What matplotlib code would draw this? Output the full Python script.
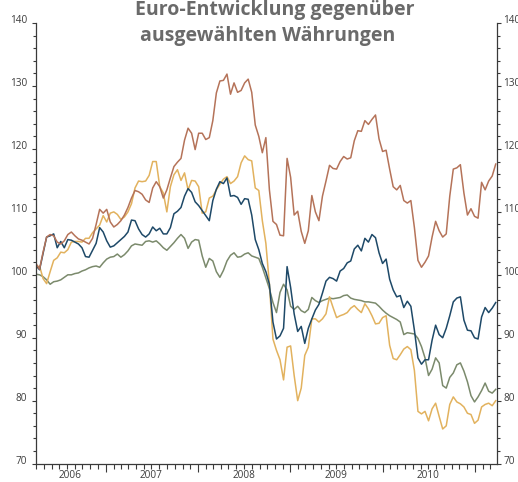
import matplotlib
matplotlib.use("Agg")
import matplotlib.pyplot as plt
import matplotlib.dates as mdates
from matplotlib.ticker import MultipleLocator, FixedLocator, NullFormatter
import pandas as pd

# ---------------- data (index, start = 100) ----------------
dates = pd.date_range("2006-03-31", periods=131, freq="14D")

serie_gruen = [
    100.1, 100.0, 99.7, 99.2, 98.5, 98.9, 99.0, 99.2, 99.6, 100.0,
    100.0, 100.2, 100.3, 100.6, 100.8, 101.1, 101.3, 101.4, 101.2, 101.9,
    102.5, 102.8, 102.9, 103.3, 102.8, 103.2, 103.8, 104.6, 104.9, 104.8,
    104.7, 105.3, 105.4, 105.2, 105.4, 104.9, 104.3, 103.9, 104.5, 105.1,
    105.8, 106.4, 105.8, 104.2, 105.2, 105.6, 105.5, 103.0, 101.2, 102.6,
    102.2, 100.5, 99.6, 100.7, 102.2, 103.1, 103.5, 102.8, 102.9, 103.3,
    103.5, 103.0, 102.8, 102.6, 101.2, 99.5, 97.8, 95.6, 94.0, 97.2,
    98.5, 97.6, 95.0, 94.5, 95.0, 94.3, 94.0, 94.5, 96.4, 95.9,
    95.6, 95.9, 96.1, 96.3, 96.2, 96.3, 96.4, 96.7, 96.8, 96.3,
    96.1, 96.0, 95.9, 95.7, 95.7, 95.6, 95.5, 95.0, 94.4, 93.9,
    93.5, 93.2, 92.9, 92.5, 90.5, 90.8, 90.7, 90.6, 89.9, 88.6,
    86.8, 84.0, 85.0, 86.8, 86.0, 82.4, 82.0, 83.7, 84.4, 85.7,
    86.0, 84.7, 83.0, 80.8, 79.8, 80.6, 81.6, 82.8, 81.5, 81.2, 81.8,
]

serie_blau = [
    101.5, 100.8, 103.4, 106.0, 106.2, 106.5, 104.3, 105.3, 104.3, 105.6,
    105.5, 105.2, 104.9, 104.3, 102.9, 102.8, 103.9, 105.0, 107.5, 106.8,
    105.4, 104.4, 104.6, 105.1, 105.6, 106.1, 106.8, 108.7, 108.6, 107.3,
    106.4, 106.0, 106.5, 107.6, 107.0, 107.4, 106.5, 106.5, 107.5, 109.7,
    110.1, 110.7, 112.5, 113.7, 113.1, 111.6, 111.0, 110.2, 109.4, 108.6,
    111.8, 113.6, 114.8, 114.5, 115.4, 112.5, 112.6, 112.3, 111.2, 112.1,
    112.0, 109.5, 105.6, 104.0, 101.8, 100.5, 98.5, 92.5, 89.8, 90.3,
    91.5, 101.3, 98.0, 93.8, 91.0, 91.8, 89.1, 91.5, 93.0, 94.4,
    95.3, 97.1, 99.0, 99.6, 99.4, 99.0, 100.6, 101.0, 101.9, 102.2,
    104.1, 104.7, 103.8, 105.8, 105.2, 106.4, 105.9, 103.5, 101.8, 102.5,
    99.3, 97.6, 96.5, 96.7, 94.8, 95.8, 95.0, 91.2, 86.8, 85.8,
    86.5, 86.5, 89.6, 92.0, 90.5, 90.0, 91.5, 93.5, 95.7, 96.3,
    96.5, 92.8, 91.2, 91.1, 90.0, 89.8, 93.3, 94.8, 94.0, 94.7, 95.6,
]

serie_gelb = [
    101.0, 101.4, 99.4, 98.6, 100.5, 102.3, 102.7, 103.6, 103.5, 104.0,
    105.2, 105.3, 105.3, 105.2, 105.8, 105.8, 106.7, 107.3, 107.9, 109.4,
    108.4, 109.8, 110.0, 109.6, 108.8, 109.2, 110.0, 111.3, 113.8, 114.9,
    114.8, 114.9, 115.8, 118.0, 118.0, 114.0, 113.0, 110.0, 114.0, 115.9,
    116.7, 115.0, 116.2, 113.5, 115.0, 114.9, 114.0, 109.8, 110.0, 112.2,
    112.5, 113.5, 114.4, 115.2, 115.6, 114.5, 114.9, 115.6, 117.8, 118.9,
    118.3, 118.1, 113.8, 113.4, 108.6, 105.0, 98.5, 89.8, 88.0, 86.5,
    83.3, 88.5, 88.7, 84.0, 80.0, 82.0, 87.2, 88.5, 93.0, 93.0,
    92.5, 93.0, 93.8, 96.5, 94.8, 93.2, 93.5, 93.7, 94.0, 94.7,
    95.1, 94.5, 94.0, 95.4, 94.6, 93.5, 92.2, 92.3, 93.2, 93.5,
    88.8, 86.7, 86.5, 87.3, 88.2, 88.6, 88.1, 84.8, 78.3, 77.9,
    78.3, 76.8, 78.7, 79.6, 77.5, 75.5, 76.0, 79.4, 80.6, 79.8,
    79.5, 79.0, 78.0, 77.8, 76.4, 76.9, 79.0, 79.4, 79.6, 79.2, 80.0,
]

serie_braun = [
    101.8, 100.9, 103.6, 106.0, 106.4, 106.2, 105.2, 104.9, 105.4, 106.4,
    106.8, 106.2, 105.7, 105.5, 105.2, 104.9, 105.8, 108.0, 110.4, 109.8,
    110.4, 108.4, 107.6, 108.0, 108.6, 109.5, 110.7, 112.2, 113.4, 113.2,
    112.8, 111.9, 111.5, 113.8, 114.8, 114.0, 112.2, 113.5, 115.4, 117.2,
    117.9, 118.5, 121.4, 123.3, 122.5, 119.9, 122.5, 122.5, 121.5, 121.8,
    124.5, 128.9, 130.8, 130.9, 131.9, 128.7, 130.5, 129.0, 129.3, 130.5,
    131.1, 129.0, 123.8, 122.0, 119.4, 121.8, 113.5, 108.5, 108.0, 106.3,
    106.2, 118.5, 115.5, 109.5, 110.1, 106.9, 105.0, 107.0, 112.6, 110.0,
    108.6, 112.5, 114.9, 117.4, 116.9, 116.8, 118.0, 118.8, 118.4, 118.6,
    121.3, 122.9, 122.8, 124.5, 123.9, 124.7, 125.4, 121.6, 119.6, 119.8,
    116.8, 114.0, 113.5, 114.2, 111.8, 111.4, 111.8, 107.5, 102.3, 101.2,
    102.0, 103.0, 106.0, 108.5, 107.0, 106.0, 106.5, 112.5, 116.8, 117.0,
    117.5, 113.0, 109.5, 110.5, 109.3, 109.0, 114.7, 113.5, 114.9, 115.7, 117.6,
]

y_ticks = [70, 80, 90, 100, 110, 120, 130, 140]
y_labels = ["70", "80", "90", "100", "110", "120", "130", "140"]
jahre = ["2006", "2007", "2008", "2009", "2010"]
jahr_pos = ["2006-08-14", "2007-07-01", "2008-07-01", "2009-07-01", "2010-07-01"]

titel1 = "Euro-Entwicklung gegenüber"
titel2 = "ausgewählten Währungen"

# ---------------- figure ----------------
plt.rcParams["font.family"] = ["Open Sans", "DejaVu Sans"]
fig = plt.figure(figsize=(5.18, 4.82), dpi=100)
ax = fig.add_axes([36 / 518, 1 - 463.6 / 482, (497 - 36) / 518, (463.6 - 23.1) / 482])

lw = 1.1
ax.plot(dates, serie_gruen, color="#7b8a6c", lw=lw)
ax.plot(dates, serie_gelb, color="#e2b25e", lw=lw)
ax.plot(dates, serie_blau, color="#1e4968", lw=lw)
ax.plot(dates, serie_braun, color="#b57359", lw=lw)

ax.set_ylim(70, 140)
ax.set_xlim(pd.Timestamp("2006-03-31"), pd.Timestamp("2011-03-30"))

spine_col = "#3a3a3a"
txt_col = "#3c3c3c"
for s in ["top", "right"]:
    ax.spines[s].set_visible(False)
for s in ["left", "bottom"]:
    ax.spines[s].set_color(spine_col)
    ax.spines[s].set_linewidth(0.9)

# y axis left
ax.yaxis.set_major_locator(FixedLocator(y_ticks))
ax.set_yticklabels(y_labels, va="baseline")
ax.yaxis.set_minor_locator(MultipleLocator(2))
ax.tick_params(axis="y", which="major", length=3.2, width=0.8, pad=3.4,
               labelsize=7.2, colors=spine_col, labelcolor=txt_col)
ax.tick_params(axis="y", which="minor", length=2.0, width=0.8, colors=spine_col)

# x axis
ax.xaxis.set_major_locator(mdates.YearLocator())
ax.xaxis.set_minor_locator(mdates.MonthLocator())
ax.xaxis.set_major_formatter(NullFormatter())
ax.tick_params(axis="x", which="major", length=5.8, width=0.8, colors=spine_col)
ax.tick_params(axis="x", which="minor", length=3.6, width=0.8, colors=spine_col)
for lab, pos in zip(jahre, jahr_pos):
    ax.annotate(lab, xy=(pd.Timestamp(pos), 0), xycoords=("data", "axes fraction"),
                xytext=(0, -4.6), textcoords="offset points", ha="center", va="top",
                fontsize=7.2, color=txt_col, annotation_clip=False)

# y axis right
ax2 = ax.twinx()
ax2.set_ylim(70, 140)
for s in ["top", "left", "bottom"]:
    ax2.spines[s].set_visible(False)
ax2.spines["right"].set_color(spine_col)
ax2.spines["right"].set_linewidth(0.9)
ax2.yaxis.set_major_locator(FixedLocator(y_ticks))
ax2.set_yticklabels(y_labels, va="baseline")
ax2.yaxis.set_minor_locator(MultipleLocator(2))
ax2.tick_params(axis="y", which="major", length=3.2, width=0.8, pad=1.2,
                labelsize=7.2, colors=spine_col, labelcolor=txt_col)
ax2.tick_params(axis="y", which="minor", length=2.0, width=0.8, colors=spine_col)

# title
fig.text(275 / 518, 1 - 15 / 482, titel1, ha="center", va="baseline",
         fontsize=14, fontweight="bold", color="#6a6a6a")
fig.text(268 / 518, 1 - 41 / 482, titel2, ha="center", va="baseline",
         fontsize=14, fontweight="bold", color="#6a6a6a")

fig.savefig("out.png", dpi=100)
